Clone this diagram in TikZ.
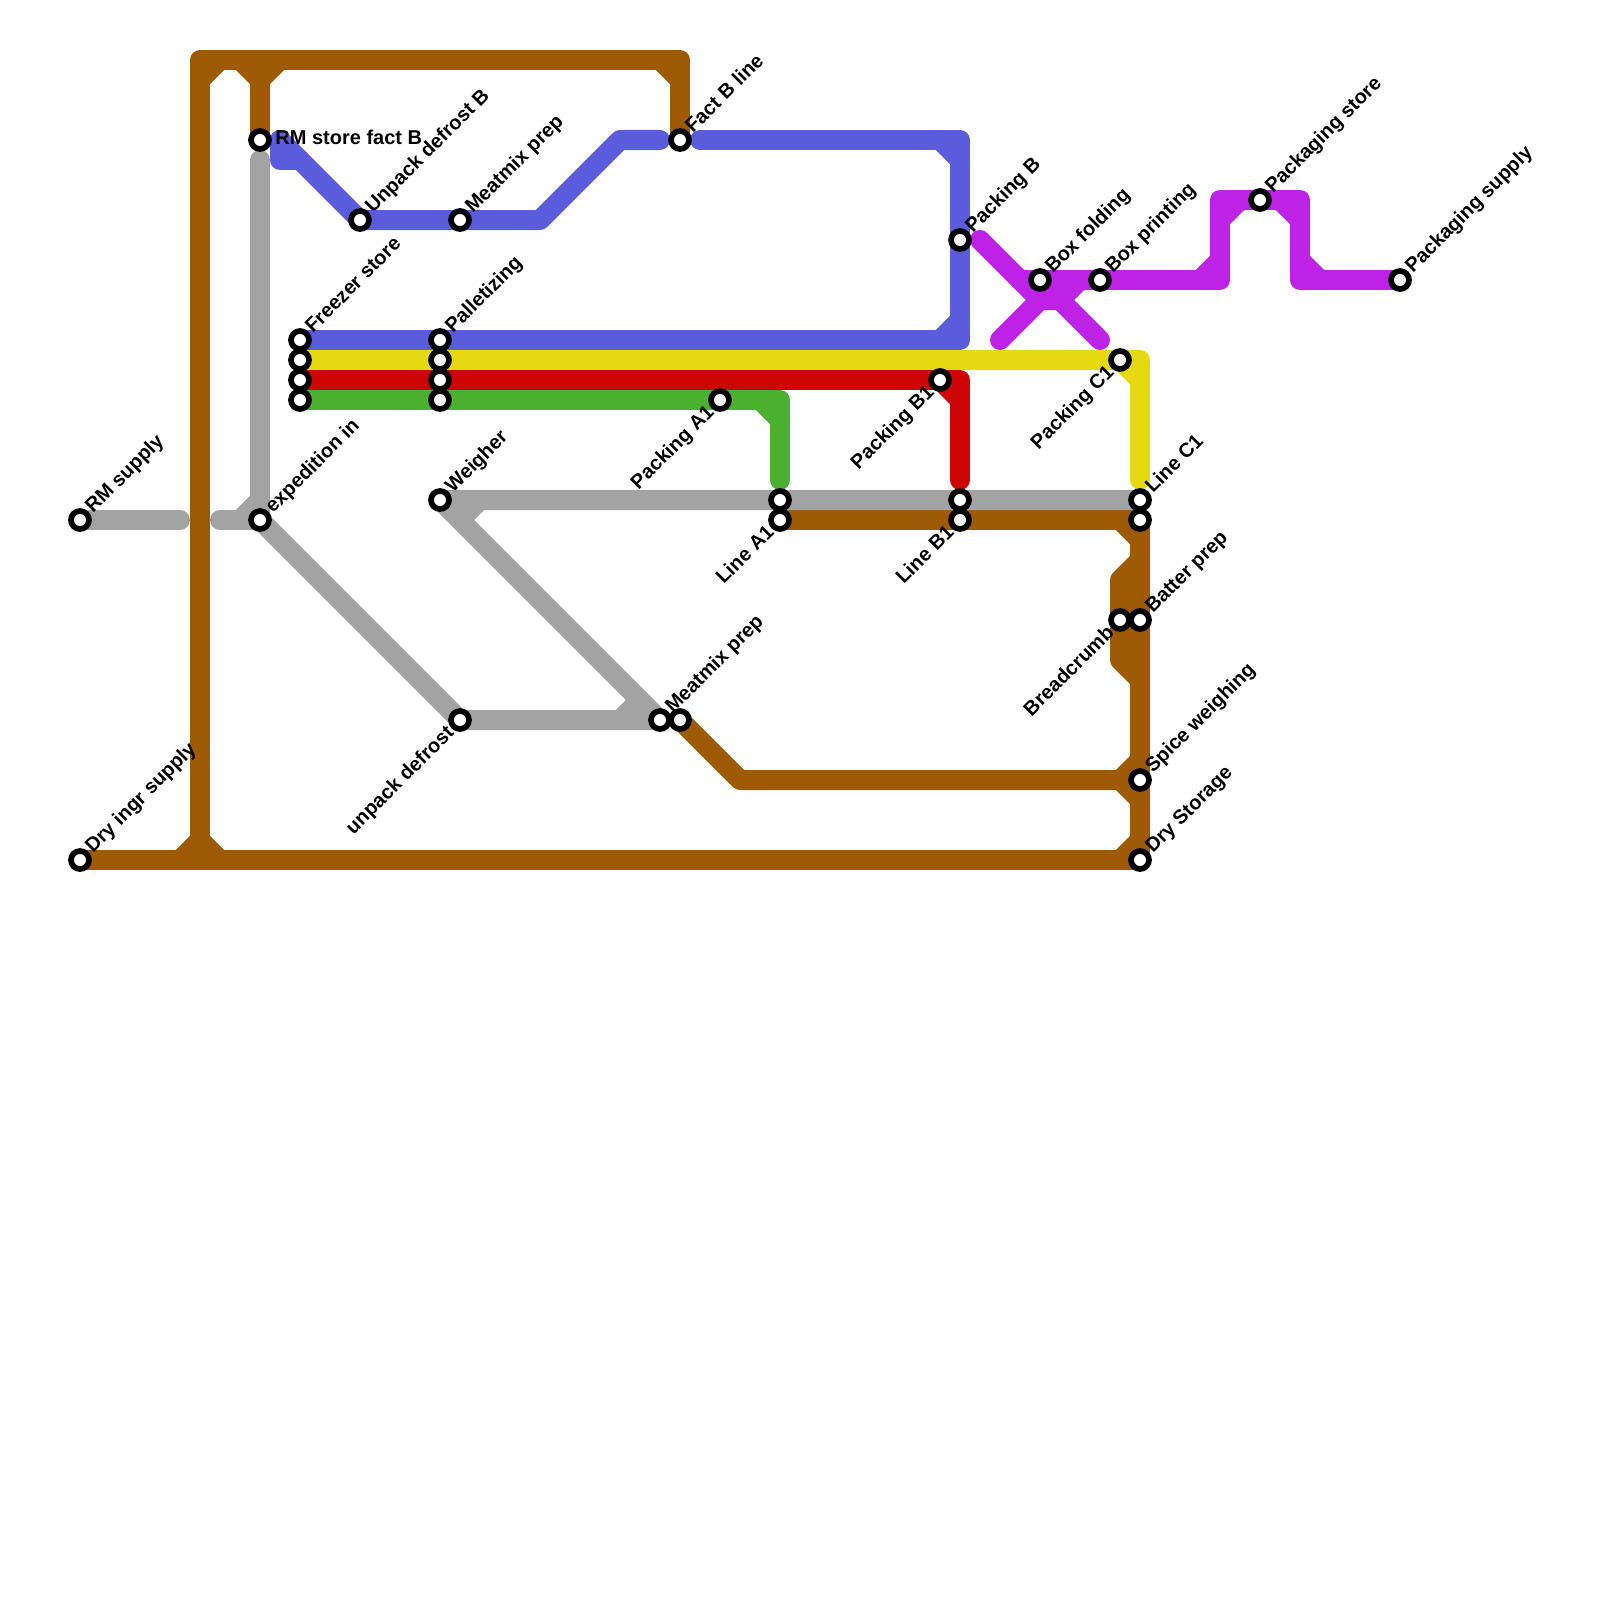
\documentclass[tikz,border=0pt]{standalone}
\usepackage{fontspec}
\setmainfont{Liberation Sans}
\usetikzlibrary{backgrounds}
\definecolor{brownln}{HTML}{9E5A05}
\definecolor{grayln}{HTML}{A3A3A3}
\definecolor{blueln}{HTML}{5A5CDB}
\definecolor{yellowln}{HTML}{E6D912}
\definecolor{redln}{HTML}{CD0505}
\definecolor{greenln}{HTML}{4BB030}
\definecolor{purpleln}{HTML}{BD22E6}
\begin{document}
\begin{tikzpicture}[x=0.5pt,y=-0.5pt,
  stn/.style={circle,draw=black,fill=white,line width=2.85pt,minimum size=9pt,inner sep=0pt},
  txt/.style={font=\bfseries\fontsize{10pt}{12pt}\selectfont,inner sep=0pt},
  upl/.style={txt,rotate=45,anchor=base west,xshift=6.6pt,yshift=-2.5pt},
  dnl/.style={txt,rotate=45,anchor=base east,xshift=-6.5pt,yshift=-3.1pt},
  ln/.style={line width=10pt,line cap=round,line join=round}]
\useasboundingbox (0,0) rectangle (1600,1600);

% stations
\node[stn] (rmsupply) at (80,520) {};
\node[stn] (dryingr) at (80,860) {};
\node[stn] (rmstoreb) at (260,140) {};
\node[stn] (expedition) at (260,520) {};
\node[stn] (freezer) at (300,340) {};
\node[stn] (freezery) at (300,360) {};
\node[stn] (freezerr) at (300,380) {};
\node[stn] (freezerg) at (300,400) {};
\node[stn] (unpackb) at (360,220) {};
\node[stn] (pallet) at (440,340) {};
\node[stn] (pallety) at (440,360) {};
\node[stn] (palletr) at (440,380) {};
\node[stn] (palletg) at (440,400) {};
\node[stn] (weigher) at (440,500) {};
\node[stn] (meatb) at (460,220) {};
\node[stn] (unpackdef) at (460,720) {};
\node[stn] (meatgray) at (660,720) {};
\node[stn] (meatbrown) at (680,720) {};
\node[stn] (factb) at (680,140) {};
\node[stn] (packa) at (720,400) {};
\node[stn] (linea) at (780,500) {};
\node[stn] (lineab) at (780,520) {};
\node[stn] (packbone) at (940,380) {};
\node[stn] (packb) at (960,240) {};
\node[stn] (lineb) at (960,500) {};
\node[stn] (linebb) at (960,520) {};
\node[stn] (boxfold) at (1040,280) {};
\node[stn] (boxprint) at (1100,280) {};
\node[stn] (packc) at (1120,360) {};
\node[stn] (breadcrumb) at (1120,620) {};
\node[stn] (linec) at (1140,500) {};
\node[stn] (linecb) at (1140,520) {};
\node[stn] (batter) at (1140,620) {};
\node[stn] (spice) at (1140,780) {};
\node[stn] (drystore) at (1140,860) {};
\node[stn] (packstore) at (1260,200) {};
\node[stn] (packsupply) at (1400,280) {};

% labels
\node[upl] (rmsupplyt) at (rmsupply) {RM supply};
\node[upl] (dryingrt) at (dryingr) {Dry ingr supply};
\node[txt,anchor=base west] (rmstorebt) at (275,145) {RM store fact B};
\node[upl] (expeditiont) at (expedition) {expedition in};
\node[upl] (freezert) at (freezer) {Freezer store};
\node[upl] (unpackbt) at (unpackb) {Unpack defrost B};
\node[upl] (pallett) at (pallet) {Palletizing};
\node[upl] (weighert) at (weigher) {Weigher};
\node[upl] (meatbt) at (meatb) {Meatmix prep};
\node[dnl] (unpackdeft) at (unpackdef) {unpack defrost};
\node[upl] (meatgrayt) at (meatgray) {Meatmix prep};
\node[upl] (factbt) at (factb) {Fact B line};
\node[dnl] (packat) at (packa) {Packing A1};
\node[dnl] (lineat) at (lineab) {Line A1};
\node[dnl] (packbonet) at (packbone) {Packing B1};
\node[upl] (packbt) at (packb) {Packing B};
\node[dnl] (linebt) at (linebb) {Line B1};
\node[upl] (boxfoldt) at (boxfold) {Box folding};
\node[upl] (boxprintt) at (boxprint) {Box printing};
\node[dnl] (packct) at (packc) {Packing C1};
\node[dnl] (breadcrumbt) at (breadcrumb) {Breadcrumb};
\node[upl] (linect) at (linec) {Line C1};
\node[upl] (battert) at (batter) {Batter prep};
\node[upl] (spicet) at (spice) {Spice weighing};
\node[upl] (drystoret) at (drystore) {Dry Storage};
\node[upl] (packstoret) at (packstore) {Packaging store};
\node[upl] (packsupplyt) at (packsupply) {Packaging supply};

\begin{scope}[on background layer]
% brown
\draw[ln,brownln] (dryingr.center) -- (drystore.center) -- (linecb.center);
\draw[ln,brownln] (200,860) -- (200,60) -- (680,60) -- (factb.center);
\draw[ln,brownln] (260,60) -- (rmstoreb.center);
\draw[ln,brownln] (lineab.center) -- (linebb.center) -- (linecb.center);
\draw[ln,brownln] (meatbrown.center) -- (740,780) -- (spice.center);
\draw[ln,brownln] (1140,560) -- (1120,580) -- (breadcrumb.center) -- (1120,660) -- (1140,680);
\draw[ln,brownln] (200,80) -- (220,60) (240,60) -- (260,80) -- (280,60) (660,60) -- (680,80);
\draw[ln,brownln] (180,860) -- (200,840) -- (220,860) (1120,520) -- (1140,540);
\draw[ln,brownln] (1140,760) -- (1120,780) -- (1140,800) (1120,860) -- (1140,840);
% grey
\draw[ln,grayln] (rmsupply.center) -- (180,520);
\draw[ln,grayln] (220,520) -- (expedition.center) -- (260,160);
\draw[ln,grayln] (240,520) -- (260,500);
\draw[ln,grayln] (expedition.center) -- (unpackdef.center) -- (meatgray.center) -- (weigher.center) -- (linec.center);
\draw[ln,grayln] (460,520) -- (480,500) (620,720) -- (640,700);
% blue
\draw[ln,blueln] (280,140) -- (unpackb.center) -- (meatb.center) -- (540,220) -- (620,140) -- (660,140);
\draw[ln,blueln] (280,140) -- (280,160) -- (300,160);
\draw[ln,blueln] (700,140) -- (960,140) -- (960,340) -- (freezer.center);
\draw[ln,blueln] (940,140) -- (960,160) (960,320) -- (940,340);
% yellow, red, green
\draw[ln,yellowln] (freezery.center) -- (packc.center) -- (1140,360) -- (1140,480);
\draw[ln,yellowln] (packc.center) -- (1140,380);
\draw[ln,redln] (freezerr.center) -- (packbone.center) -- (960,380) -- (960,480);
\draw[ln,redln] (packbone.center) -- (960,400);
\draw[ln,greenln] (freezerg.center) -- (packa.center) -- (780,400) -- (780,480);
\draw[ln,greenln] (760,400) -- (780,420);
% purple
\draw[ln,purpleln] (980,240) -- (1040,300) -- (1060,300) -- (1080,280);
\draw[ln,purpleln] (1000,340) -- (1040,300) (boxfold.center) -- (1100,340);
\draw[ln,purpleln] (1020,280) -- (1220,280) -- (1220,200) -- (1300,200) -- (1300,280) -- (packsupply.center);
\draw[ln,purpleln] (1200,280) -- (1220,260) (1220,220) -- (1240,200) (1280,200) -- (1300,220) (1300,260) -- (1320,280);
\end{scope}
\end{tikzpicture}
\end{document}
